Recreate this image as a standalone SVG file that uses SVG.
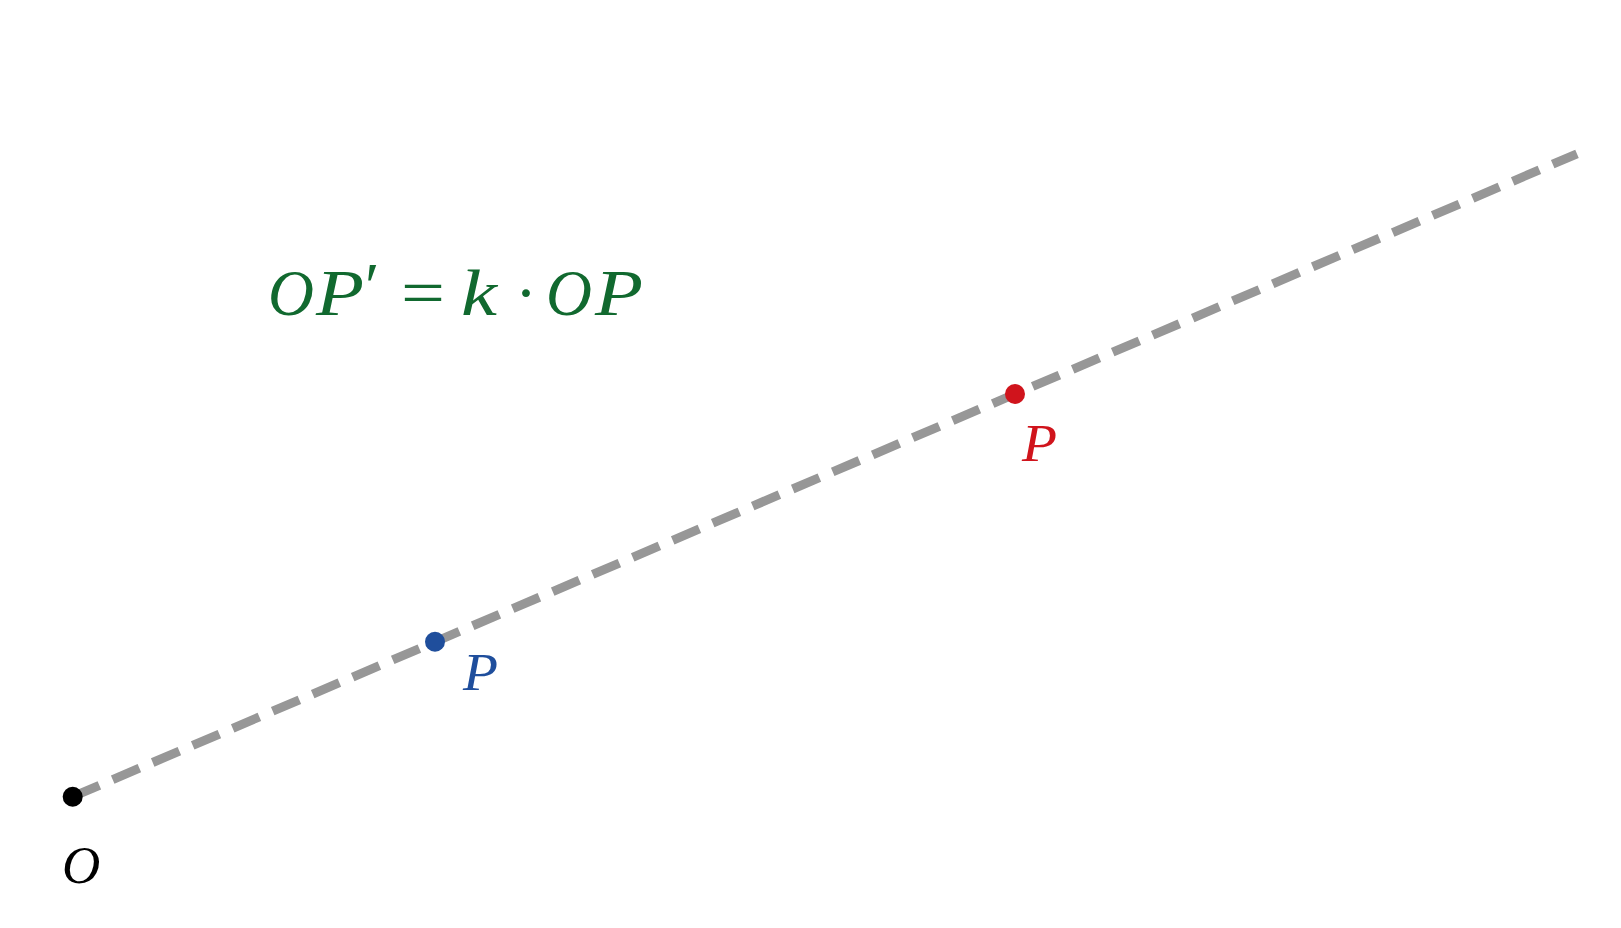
<svg xmlns="http://www.w3.org/2000/svg" width="1621" height="928" viewBox="0 0 1621 928">
<style>
.lbl{font-family:"Liberation Serif",serif;font-style:italic;font-size:53px}
.eq{font-family:"Liberation Serif",serif;font-size:66px;fill:#11692f}
.it{font-style:italic}
</style>
<rect width="1621" height="928" fill="#fff"/>
<g id="connectors">
<line x1="72.7" y1="796.7" x2="1577" y2="153.8" stroke="#979797" stroke-width="9" stroke-dasharray="29 14.5"/>
</g>
<g id="O"><circle cx="72.7" cy="796.7" r="10" fill="#000"/><text class="lbl" x="62" y="883" fill="#000">O</text></g>
<g id="P"><circle cx="435" cy="641.8" r="10" fill="#1f4e9c"/><text class="lbl" x="463" y="690" fill="#1f4e9c" textLength="35" lengthAdjust="spacingAndGlyphs">P</text></g>
<g id="Pprime"><circle cx="1015" cy="394" r="10" fill="#d0141c"/><text class="lbl" x="1022" y="461" fill="#d0141c" textLength="35" lengthAdjust="spacingAndGlyphs">P</text></g>
<g id="equation">
<text class="eq it" x="268" y="315" textLength="46" lengthAdjust="spacingAndGlyphs">O</text>
<text class="eq it" x="316" y="315" textLength="48" lengthAdjust="spacingAndGlyphs">P</text>
<text class="eq" x="365" y="308" font-size="56">′</text>
<text class="eq" x="401" y="315" textLength="44" lengthAdjust="spacingAndGlyphs">=</text>
<text class="eq it" x="461" y="315" textLength="36" lengthAdjust="spacingAndGlyphs">k</text>
<text class="eq" x="515" y="315">·</text>
<text class="eq it" x="546" y="315" textLength="46" lengthAdjust="spacingAndGlyphs">O</text>
<text class="eq it" x="595" y="315" textLength="48" lengthAdjust="spacingAndGlyphs">P</text>
</g>
</svg>
